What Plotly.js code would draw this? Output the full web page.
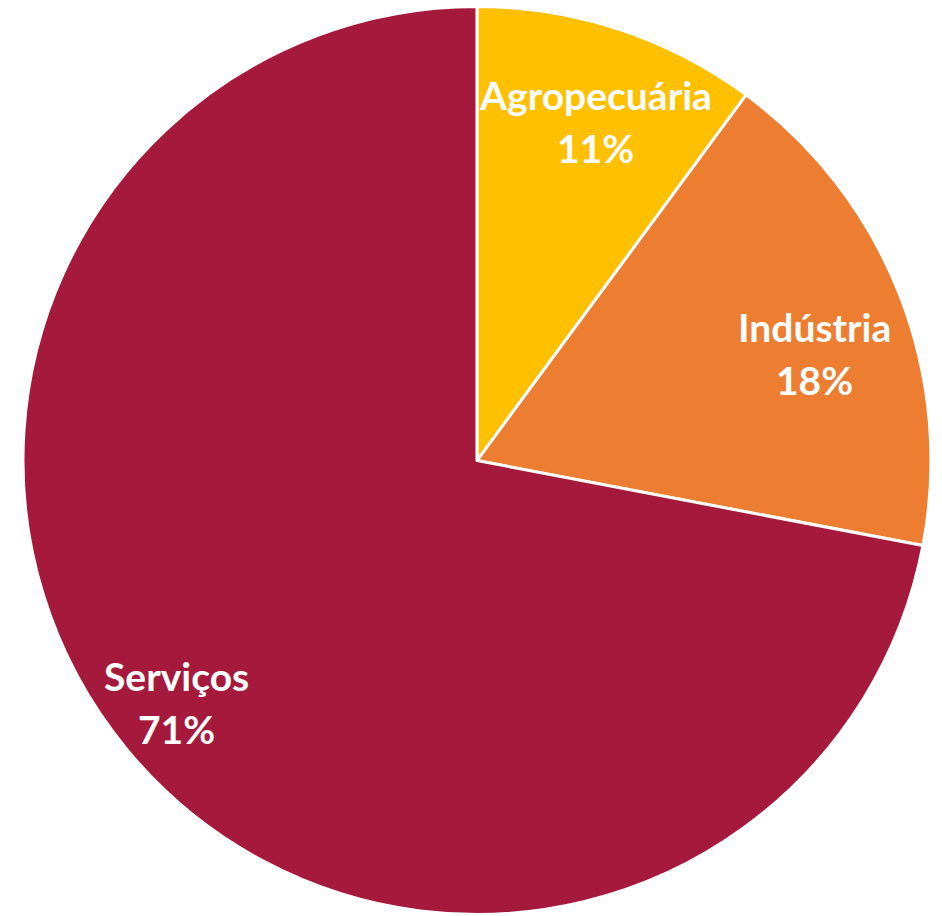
<!DOCTYPE html>
<html>
<head>
<meta charset="utf-8">
<script src="https://cdn.plot.ly/plotly-3.0.1.min.js"></script>
<style>html,body{margin:0;padding:0;background:#fff;}#chart{width:942px;height:916px;}</style>
</head>
<body>
<div id="chart"></div>
<script>
const sectors = ['Agropecuária', 'Indústria', 'Serviços'];
const shares = [10.1, 17.9, 72.0];
const shareLabels = ['11%', '18%', '71%'];
const sectorColors = ['#FFC000', '#ED7D31', '#A51A3C'];

const W = 942, H = 916;
const domX = [0.0244, 0.9883], domY = [0.0016, 0.9929];

// label placement (layout, not data): angle offset in degrees and radial fraction
const labelPlacement = [
  {dAngle: 1.1, k: 0.793},
  {dAngle: 3.8, k: 0.779},
  {dAngle: 0.9, k: 0.849}
];

const trace = {
  type: 'pie',
  labels: sectors,
  values: shares,
  sort: false,
  direction: 'clockwise',
  rotation: 0,
  marker: {colors: sectorColors, line: {color: '#FFFFFF', width: 3}},
  textinfo: 'none',
  hoverinfo: 'none',
  domain: {x: domX, y: domY}
};

const total = shares.reduce((a, b) => a + b, 0);
const cx = (domX[0] + domX[1]) / 2 * W;
const cy = (1 - (domY[0] + domY[1]) / 2) * H;
const R = Math.min((domX[1] - domX[0]) * W, (domY[1] - domY[0]) * H) / 2;
const fontSpec = {family: 'Lato, Carlito, Calibri, sans-serif', size: 39, color: '#FFFFFF', weight: 'bold'};
const annotations = [];
let cum = 0;
shares.forEach((v, i) => {
  const mid = (cum + v / 2) / total * 360 + labelPlacement[i].dAngle;
  cum += v;
  const a = mid * Math.PI / 180;
  const px = cx + labelPlacement[i].k * R * Math.sin(a);
  const py = cy - labelPlacement[i].k * R * Math.cos(a);
  const base = {xref: 'paper', yref: 'paper', x: px / W, y: 1 - py / H,
    xanchor: 'center', yanchor: 'middle', showarrow: false, font: fontSpec};
  annotations.push(Object.assign({}, base, {text: sectors[i], yshift: 26}));
  annotations.push(Object.assign({}, base, {text: shareLabels[i], yshift: -27}));
});

Plotly.newPlot('chart', [trace], {
  width: W, height: H,
  margin: {l: 0, r: 0, t: 0, b: 0},
  showlegend: false,
  paper_bgcolor: '#FFFFFF',
  annotations: annotations
}, {displayModeBar: false, staticPlot: true});
</script>
</body>
</html>
